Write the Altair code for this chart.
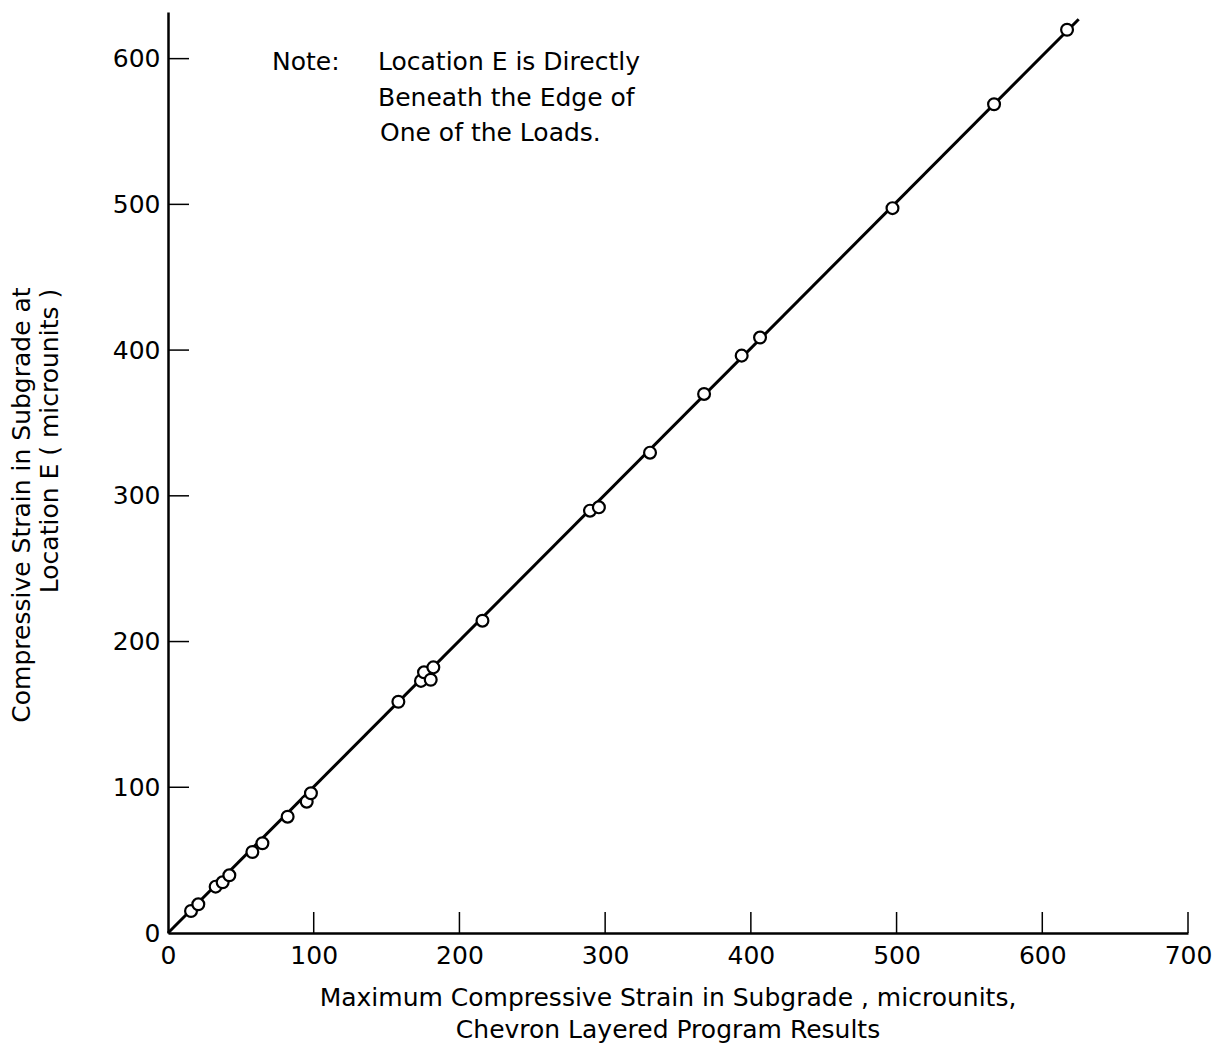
import altair as alt
import pandas as pd

# Data
pt_x = [15.8, 20.8, 32.7, 37.5, 42.1, 57.9, 64.8, 82.1, 95.2, 98.1,
        158.1, 173.6, 175.7, 180.3, 182.1, 215.8, 289.6, 295.7, 330.8,
        367.9, 393.7, 406.3, 497.2, 566.9, 617.0]
pt_y = [15.1, 19.7, 31.8, 34.8, 39.6, 55.6, 61.6, 79.8, 90.1, 95.9,
        158.7, 173.0, 178.9, 173.8, 182.3, 214.3, 289.8, 292.1, 329.6,
        369.9, 396.2, 408.6, 497.4, 568.7, 619.8]
line_x = [0, 625]
line_y = [0, 627]
x_ticks = [0, 100, 200, 300, 400, 500, 600, 700]
y_ticks = [0, 100, 200, 300, 400, 500, 600]

FONT = "DejaVu Sans"
FS = 25
W, H = 1020, 921

pts = pd.DataFrame({"x": pt_x, "y": pt_y})
ln = pd.DataFrame({"x": line_x, "y": line_y})
xt = pd.DataFrame({"v": x_ticks[1:]})
yt = pd.DataFrame({"v": y_ticks[1:]})

xscale = alt.Scale(domain=[0, 700], nice=False, zero=False)
yscale = alt.Scale(domain=[0, 632], nice=False, zero=False)

xaxis = alt.Axis(values=x_ticks, ticks=False, grid=False, title=None,
                 domainColor="black", domainWidth=2.5, labelFont=FONT,
                 labelFontSize=FS, labelColor="black", labelPadding=10,
                 labelFlush=False)
yaxis = alt.Axis(values=y_ticks, ticks=False, grid=False, title=None,
                 domainColor="black", domainWidth=2.5, labelFont=FONT,
                 labelFontSize=FS, labelColor="black", labelPadding=8)

line = alt.Chart(ln).mark_line(color="black", strokeWidth=3).encode(
    x=alt.X("x:Q", scale=xscale, axis=xaxis),
    y=alt.Y("y:Q", scale=yscale, axis=yaxis),
)

points = alt.Chart(pts).mark_point(shape="circle", size=140, filled=False,
                                   fill="white", fillOpacity=1,
                                   color="black", strokeWidth=2.2).encode(
    x=alt.X("x:Q", scale=xscale),
    y=alt.Y("y:Q", scale=yscale),
)

xticks = alt.Chart(xt).mark_rule(color="black", strokeWidth=1.5).encode(
    x=alt.X("v:Q", scale=xscale),
    y=alt.value(H), y2=alt.value(H - 21),
)
yticks = alt.Chart(yt).mark_rule(color="black", strokeWidth=1.5).encode(
    y=alt.Y("v:Q", scale=yscale),
    x=alt.value(0), x2=alt.value(21),
)

def txt(s, x, y, align="left", angle=0):
    kw = dict(text=s, font=FONT, fontSize=FS, color="black", align=align,
              baseline="middle")
    if angle:
        kw["angle"] = angle
    return alt.Chart(pd.DataFrame({"a": [0]})).mark_text(**kw).encode(
        x=alt.value(x), y=alt.value(y))

note = (txt("Note:", 104, 50) +
        txt("Location E is Directly", 210, 50) +
        txt("Beneath the Edge of", 210, 86) +
        txt("One of the Loads.", 212, 121))

titles = (txt("Maximum Compressive Strain in Subgrade , microunits,", 500, 986, "center") +
          txt("Chevron Layered Program Results", 500, 1018, "center") +
          txt("Compressive Strain in Subgrade at", -146, 493, "center", 270) +
          txt("Location E  ( microunits )", -118, 429, "center", 270))

chart = alt.layer(line, xticks, yticks, points, note, titles).properties(
    width=W, height=H,
    autosize=alt.AutoSizeParams(type="none"),
    padding={"left": 168, "top": 12, "right": 38, "bottom": 114},
    background="white",
).configure_view(stroke=None)

chart.save("out.html", embed_options={"renderer": "svg", "actions": False})
